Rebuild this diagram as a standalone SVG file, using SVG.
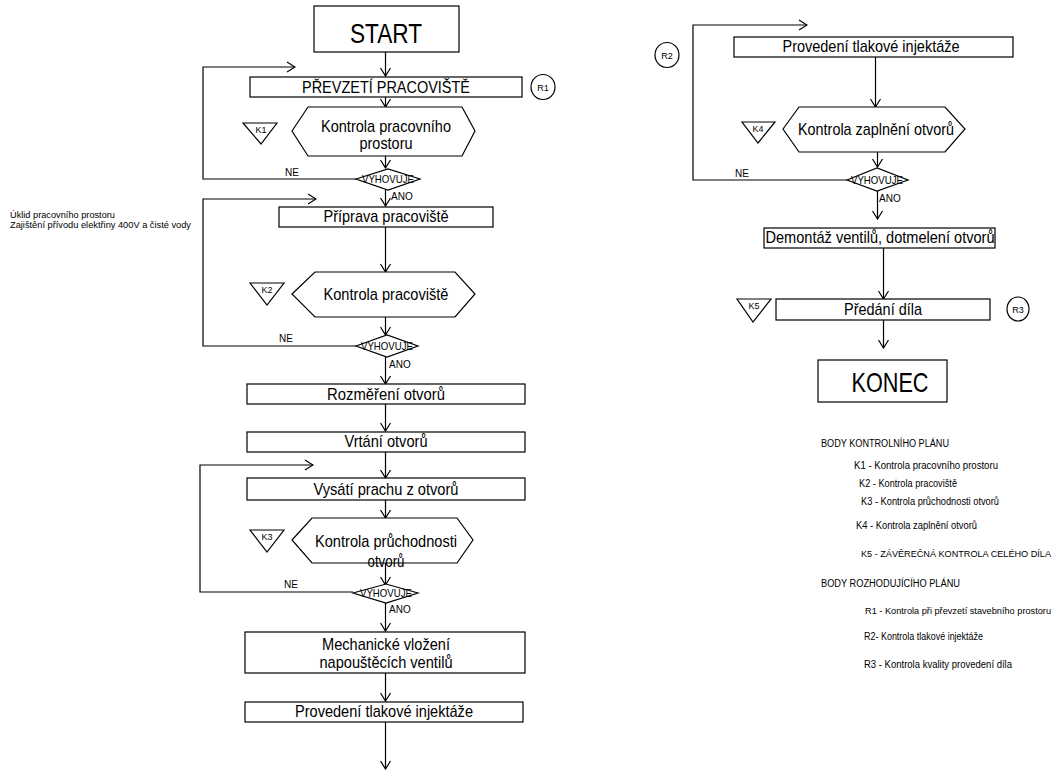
<svg xmlns="http://www.w3.org/2000/svg" width="1059" height="771" viewBox="0 0 1059 771">
<style>
text{font-family:"Liberation Sans",Arial,sans-serif;fill:#000}
.b{fill:#fff;stroke:#000;stroke-width:1.2}
.c{fill:none;stroke:#000;stroke-width:1.2}
.big{font-size:28px;text-anchor:middle}
.t{font-size:17px;text-anchor:middle}
.s{font-size:10px}
.k{font-size:9px;text-anchor:middle}
.v{font-size:11px;text-anchor:middle}
.l{font-size:10px}
.l9{font-size:9px}
</style>
<defs>
<marker id="a" viewBox="0 0 10 12" refX="9" refY="6" markerWidth="10" markerHeight="12" markerUnits="userSpaceOnUse" orient="auto">
<path d="M1,1 L9,6 L1,11" fill="none" stroke="#000" stroke-width="1.2"/>
</marker>
</defs>
<rect width="1059" height="771" fill="#fff"/>
<g id="connectors">
<path class="c" d="M385.5,52 V76" marker-end="url(#a)"/>
<path class="c" d="M385.5,97 V107" marker-end="url(#a)"/>
<path class="c" d="M385.5,156 V168" marker-end="url(#a)"/>
<path class="c" d="M385.5,190 V206" marker-end="url(#a)"/>
<path class="c" d="M356,179 H203 V67 H295" marker-end="url(#a)"/>
<path class="c" d="M385.5,227 V272" marker-end="url(#a)"/>
<path class="c" d="M385.5,317 V335" marker-end="url(#a)"/>
<path class="c" d="M385.5,357 V384" marker-end="url(#a)"/>
<path class="c" d="M356,346 H203 V199 H316" marker-end="url(#a)"/>
<path class="c" d="M385.5,404 V431" marker-end="url(#a)"/>
<path class="c" d="M385.5,452 V478" marker-end="url(#a)"/>
<path class="c" d="M385.5,500 V518" marker-end="url(#a)"/>
<path class="c" d="M385.5,563 V585" marker-end="url(#a)"/>
<path class="c" d="M353,592 H200 V465 H313" marker-end="url(#a)"/>
<path class="c" d="M385.5,603 V631" marker-end="url(#a)"/>
<path class="c" d="M385.5,673 V701" marker-end="url(#a)"/>
<path class="c" d="M385.5,722 V769" marker-end="url(#a)"/>
<path class="c" d="M875.5,57 V107" marker-end="url(#a)"/>
<path class="c" d="M877.5,152 V167" marker-end="url(#a)"/>
<path class="c" d="M847,180 H693 V25 H807" marker-end="url(#a)"/>
<path class="c" d="M877.5,191 V219" marker-end="url(#a)"/>
<path class="c" d="M883.5,248 V299" marker-end="url(#a)"/>
<path class="c" d="M883.5,320 V348" marker-end="url(#a)"/>
</g>
<g id="start">
<rect class="b" x="314" y="6" width="145" height="46"/>
<text class="big" x="386" y="43" textLength="72" lengthAdjust="spacingAndGlyphs">START</text>
</g>
<g id="prevzeti">
<rect class="b" x="250" y="77" width="272" height="20"/>
<text class="t" x="386" y="93" textLength="168" lengthAdjust="spacingAndGlyphs">PŘEVZETÍ PRACOVIŠTĚ</text>
</g>
<g id="r1">
<ellipse class="b" cx="543" cy="87" rx="12" ry="12.5"/>
<text class="k" x="543" y="91">R1</text>
</g>
<g id="k1hex">
<polygon class="b" points="292,131 308,107 462,107 475,131 462,156 308,156"/>
<text class="t" x="386" y="132" textLength="130" lengthAdjust="spacingAndGlyphs">Kontrola pracovního</text>
<text class="t" x="386" y="149" textLength="53" lengthAdjust="spacingAndGlyphs">prostoru</text>
</g>
<g id="k1">
<polygon class="b" points="243,123 277,123 261,144"/>
<text class="k" x="261" y="133">K1</text>
</g>
<g id="d1">
<polygon class="b" points="356,179 388,169 420,179 388,190"/>
<text class="v" x="388" y="183" textLength="52" lengthAdjust="spacingAndGlyphs">VYHOVUJE</text>
<text class="s" x="285" y="176">NE</text>
<text class="s" x="391" y="200">ANO</text>
</g>
<g id="note">
<text class="l9" x="10" y="218" textLength="105" lengthAdjust="spacingAndGlyphs">Úklid pracovního prostoru</text>
<text class="l9" x="10" y="228" textLength="181" lengthAdjust="spacingAndGlyphs">Zajištění přívodu elektřiny 400V a čisté vody</text>
</g>
<g id="priprava">
<rect class="b" x="279" y="207" width="214" height="20"/>
<text class="t" x="386" y="222" textLength="125" lengthAdjust="spacingAndGlyphs">Příprava pracoviště</text>
</g>
<g id="k2hex">
<polygon class="b" points="292,294 315,272 455,272 475,294 455,317 315,317"/>
<text class="t" x="386" y="300" textLength="125" lengthAdjust="spacingAndGlyphs">Kontrola pracoviště</text>
</g>
<g id="k2">
<polygon class="b" points="250,283 284,283 267,305"/>
<text class="k" x="267" y="293">K2</text>
</g>
<g id="d2">
<polygon class="b" points="356,346 387,335 418,346 387,357"/>
<text class="v" x="387" y="350" textLength="52" lengthAdjust="spacingAndGlyphs">VYHOVUJE</text>
<text class="s" x="279" y="342">NE</text>
<text class="s" x="389" y="368">ANO</text>
</g>
<g id="rozmereni">
<rect class="b" x="247" y="384" width="278" height="20"/>
<text class="t" x="386" y="400" textLength="118" lengthAdjust="spacingAndGlyphs">Rozměření otvorů</text>
</g>
<g id="vrtani">
<rect class="b" x="247" y="432" width="278" height="20"/>
<text class="t" x="386" y="447" textLength="83" lengthAdjust="spacingAndGlyphs">Vrtání otvorů</text>
</g>
<g id="vysati">
<rect class="b" x="247" y="478" width="278" height="22"/>
<text class="t" x="386" y="495" textLength="145" lengthAdjust="spacingAndGlyphs">Vysátí prachu z otvorů</text>
</g>
<g id="k3hex">
<polygon class="b" points="292,540 312,518 457,518 473,540 457,563 312,563"/>
<text class="t" x="386" y="547" textLength="142" lengthAdjust="spacingAndGlyphs">Kontrola průchodnosti</text>
<text class="t" x="386" y="567" textLength="37" lengthAdjust="spacingAndGlyphs">otvorů</text>
</g>
<g id="k3">
<polygon class="b" points="250,530 284,530 267,552"/>
<text class="k" x="267" y="540">K3</text>
</g>
<g id="d3">
<polygon class="b" points="353,593 386,584 418,593 386,603"/>
<text class="v" x="386" y="597" textLength="52" lengthAdjust="spacingAndGlyphs">VYHOVUJE</text>
<text class="s" x="284" y="588">NE</text>
<text class="s" x="389" y="613">ANO</text>
</g>
<g id="mechanicke">
<rect class="b" x="245" y="632" width="280" height="41"/>
<text class="t" x="386" y="650" textLength="128" lengthAdjust="spacingAndGlyphs">Mechanické vložení</text>
<text class="t" x="386" y="668" textLength="133" lengthAdjust="spacingAndGlyphs">napouštěcích ventilů</text>
</g>
<g id="provedeni1">
<rect class="b" x="245" y="702" width="278" height="20"/>
<text class="t" x="384" y="717" textLength="178" lengthAdjust="spacingAndGlyphs">Provedení tlakové injektáže</text>
</g>
<g id="r2">
<ellipse class="b" cx="667" cy="55" rx="12" ry="12.5"/>
<text class="k" x="667" y="59">R2</text>
</g>
<g id="provedeni2">
<rect class="b" x="734" y="37" width="279" height="20"/>
<text class="t" x="871" y="52" textLength="177" lengthAdjust="spacingAndGlyphs">Provedení tlakové injektáže</text>
</g>
<g id="k4hex">
<polygon class="b" points="783,129 799,107 945,107 965,129 945,152 799,152"/>
<text class="t" x="876" y="135" textLength="156" lengthAdjust="spacingAndGlyphs">Kontrola zaplnění otvorů</text>
</g>
<g id="k4">
<polygon class="b" points="742,122 775,122 758,143"/>
<text class="k" x="758" y="132">K4</text>
</g>
<g id="d4">
<polygon class="b" points="847,180 877,168 908,180 877,191"/>
<text class="v" x="877" y="184" textLength="52" lengthAdjust="spacingAndGlyphs">VYHOVUJE</text>
<text class="s" x="735" y="177">NE</text>
<text class="s" x="879" y="202">ANO</text>
</g>
<g id="demontaz">
<rect class="b" x="764" y="228" width="231" height="20"/>
<text class="t" x="880" y="243" textLength="229" lengthAdjust="spacingAndGlyphs">Demontáž ventilů, dotmelení otvorů</text>
</g>
<g id="predani">
<rect class="b" x="776" y="299" width="214" height="21"/>
<text class="t" x="883" y="315" textLength="78" lengthAdjust="spacingAndGlyphs">Předání díla</text>
</g>
<g id="k5">
<polygon class="b" points="737,299 771,299 753,322"/>
<text class="k" x="754" y="309">K5</text>
</g>
<g id="r3">
<ellipse class="b" cx="1018" cy="309" rx="11" ry="12"/>
<text class="k" x="1018" y="313">R3</text>
</g>
<g id="konec">
<rect class="b" x="818" y="360" width="129" height="42"/>
<text class="big" x="890" y="392" textLength="77" lengthAdjust="spacingAndGlyphs">KONEC</text>
</g>
<g id="legend">
<text class="l" x="821" y="447" textLength="128" lengthAdjust="spacingAndGlyphs">BODY KONTROLNÍHO PLÁNU</text>
<text class="l" x="854" y="469" textLength="144" lengthAdjust="spacingAndGlyphs">K1 - Kontrola pracovního prostoru</text>
<text class="l" x="859" y="487" textLength="98" lengthAdjust="spacingAndGlyphs">K2 - Kontrola pracoviště</text>
<text class="l" x="861" y="505" textLength="138" lengthAdjust="spacingAndGlyphs">K3 - Kontrola průchodnosti otvorů</text>
<text class="l" x="856" y="529" textLength="121" lengthAdjust="spacingAndGlyphs">K4 - Kontrola zaplnění otvorů</text>
<text class="l9" x="861" y="557" textLength="190" lengthAdjust="spacingAndGlyphs">K5 - ZÁVĚREČNÁ KONTROLA CELÉHO DÍLA</text>
<text class="l" x="821" y="587" textLength="139" lengthAdjust="spacingAndGlyphs">BODY ROZHODUJÍCÍHO PLÁNU</text>
<text class="l9" x="865" y="614" textLength="186" lengthAdjust="spacingAndGlyphs">R1 - Kontrola při převzetí stavebního prostoru</text>
<text class="l" x="864" y="640" textLength="119" lengthAdjust="spacingAndGlyphs">R2- Kontrola tlakové injektáže</text>
<text class="l" x="864" y="668" textLength="148" lengthAdjust="spacingAndGlyphs">R3 - Kontrola kvality provedení díla</text>
</g>
</svg>
